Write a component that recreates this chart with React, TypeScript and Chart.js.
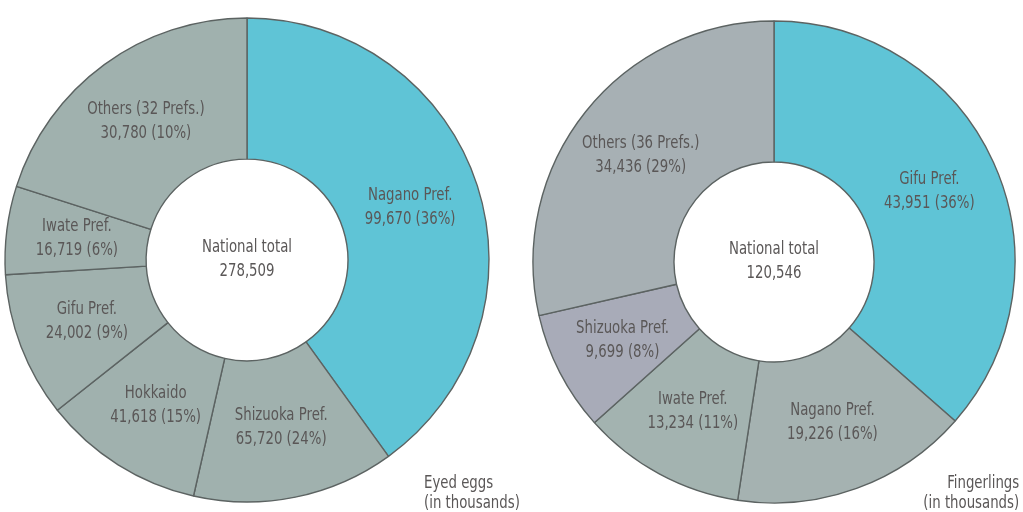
import React, { useEffect, useRef } from "react";
import { Chart, registerables } from "chart.js";

Chart.register(...registerables);

// ---- Eyed eggs (in thousands) ----
const eggCategories = ["Nagano Pref.", "Shizuoka Pref.", "Hokkaido", "Gifu Pref.", "Iwate Pref.", "Others (32 Prefs.)"];
const eggValues = [99670, 65720, 41618, 24002, 16719, 30780];
const eggPercents = [36, 24, 15, 9, 6, 10];
// angular share (%) of each slice as it is drawn in the reference artwork
// (the original left ring is not drawn to scale with its printed values)
const eggDrawnShares = [40.1, 13.5, 10.8, 9.7, 5.9, 20.1];
const eggTotal = 278509;

// ---- Fingerlings (in thousands) ----
const fryCategories = ["Gifu Pref.", "Nagano Pref.", "Iwate Pref.", "Shizuoka Pref.", "Others (36 Prefs.)"];
const fryValues = [43951, 19226, 13234, 9699, 34436];
const fryPercents = [36, 16, 11, 8, 29];
const fryTotal = 120546;

const TEXT = "#5a5757";
const FONT_FAMILY = '"Liberation Sans Narrow", "DejaVu Sans Condensed", "Liberation Sans", sans-serif';
const CYAN = "#5fc4d6";
const GRAY = "#a0b1ae";
const BORDER = "#5c6362";
const CONDENSE = 0.87;

const fmt = (n: number) => n.toLocaleString("en-US");

function condensedText(ctx: CanvasRenderingContext2D, s: string, x: number, y: number) {
  const w = ctx.measureText(s).width;
  ctx.fillText(s, x, y, w * CONDENSE);
}

const labelPlugin = {
  id: "sliceLabels",
  afterDatasetsDraw(chart: any, _args: any, opts: any) {
    const ctx = chart.ctx as CanvasRenderingContext2D;
    const meta = chart.getDatasetMeta(0);
    ctx.save();
    ctx.fillStyle = TEXT;
    ctx.font = `17px ${FONT_FAMILY}`;
    ctx.textAlign = "center";
    ctx.textBaseline = "middle";
    const lines: string[][] = opts.lines || [];
    meta.data.forEach((arc: any, i: number) => {
      const p = arc.tooltipPosition(false);
      const l = lines[i];
      if (!l) return;
      condensedText(ctx, l[0], p.x, p.y - 12);
      condensedText(ctx, l[1], p.x, p.y + 12);
    });
    const c = meta.data[0];
    if (c) {
      condensedText(ctx, "National total", c.x, c.y - 12);
      condensedText(ctx, opts.total, c.x, c.y + 12);
    }
    ctx.restore();
  },
};

interface RingProps {
  left: number;
  top: number;
  size: number;
  radius: number;
  cutout: string;
  categories: string[];
  shares: number[];
  values: number[];
  percents: number[];
  colors: string[];
  total: number;
}

function Ring(props: RingProps) {
  const ref = useRef<HTMLCanvasElement | null>(null);
  useEffect(() => {
    if (!ref.current) return;
    const lines = props.categories.map((c, i) => [c, `${fmt(props.values[i])} (${props.percents[i]}%)`]);
    const chart = new Chart(ref.current, {
      type: "doughnut",
      data: {
        labels: props.categories,
        datasets: [
          {
            data: props.shares,
            backgroundColor: props.colors,
            borderColor: BORDER,
            borderWidth: 1.4,
          },
        ],
      },
      options: {
        responsive: false,
        animation: false,
        radius: props.radius,
        cutout: props.cutout,
        layout: { padding: 0 },
        plugins: {
          legend: { display: false },
          tooltip: { enabled: false },
          // @ts-ignore
          sliceLabels: { lines, total: fmt(props.total) },
        },
      } as any,
      plugins: [labelPlugin as any],
    });
    return () => chart.destroy();
  }, []);
  return (
    <canvas
      ref={ref}
      width={props.size}
      height={props.size}
      style={{ position: "absolute", left: props.left, top: props.top, width: props.size, height: props.size }}
    />
  );
}

const captionStyle: React.CSSProperties = {
  position: "absolute",
  top: 472,
  fontFamily: FONT_FAMILY,
  fontSize: 17,
  lineHeight: "20px",
  color: TEXT,
  whiteSpace: "nowrap",
};

export default function App() {
  return (
    <div style={{ position: "absolute", left: 0, top: 0, width: 1023, height: 512, background: "#ffffff", overflow: "hidden" }}>
      <Ring
        left={0}
        top={13}
        size={494}
        radius={242}
        cutout="41.7%"
        categories={eggCategories}
        shares={eggDrawnShares}
        values={eggValues}
        percents={eggPercents}
        colors={[CYAN, GRAY, GRAY, GRAY, GRAY, GRAY]}
        total={eggTotal}
      />
      <Ring
        left={527}
        top={15}
        size={494}
        radius={241}
        cutout="41.5%"
        categories={fryCategories}
        shares={fryValues}
        values={fryValues}
        percents={fryPercents}
        colors={[CYAN, "#a5b2b1", "#a3b3b0", "#a8abb8", "#a7b0b4"]}
        total={fryTotal}
      />
      <div style={{ ...captionStyle, left: 424, textAlign: "left", transform: `scaleX(${CONDENSE})`, transformOrigin: "left top" }}>
        Eyed eggs
        <br />
        (in thousands)
      </div>
      <div style={{ ...captionStyle, right: 4, textAlign: "right", transform: `scaleX(${CONDENSE})`, transformOrigin: "right top" }}>
        Fingerlings
        <br />
        (in thousands)
      </div>
    </div>
  );
}
